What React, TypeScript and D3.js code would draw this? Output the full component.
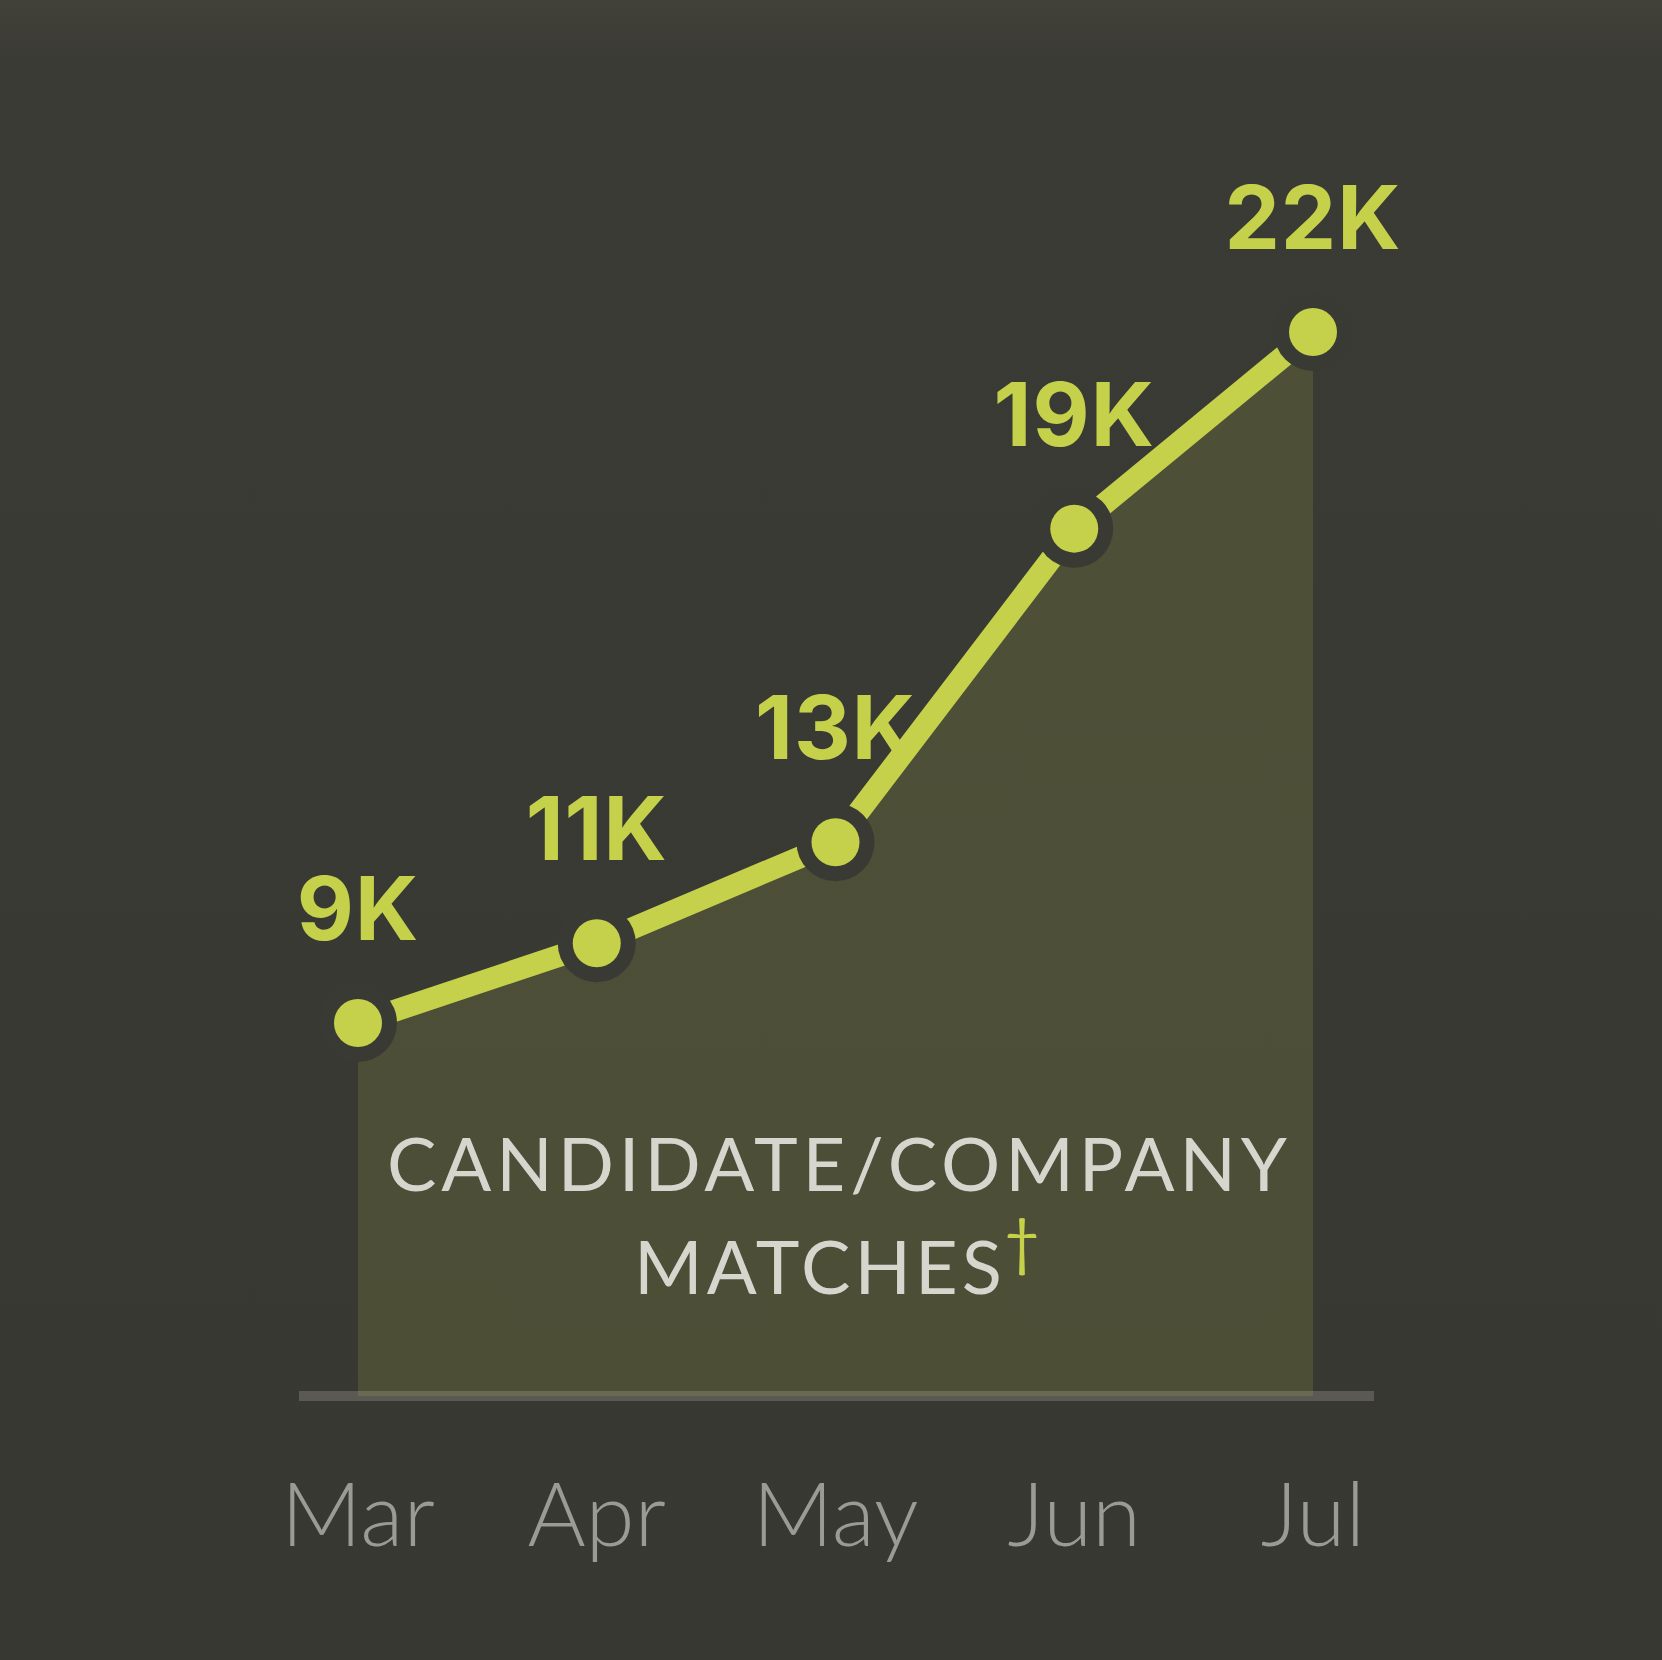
import React from 'react';
import * as d3 from 'd3';

const months = ['Mar', 'Apr', 'May', 'Jun', 'Jul'];
const matches = [9.4, 10.9, 12.8, 18.7, 22.4];
const valueLabels = ['9K', '11K', '13K', '19K', '22K'];
const titleLine1 = 'CANDIDATE/COMPANY';
const titleLine2 = 'MATCHES';
const footnoteMark = '†';

const W = 1662;
const H = 1660;

const BG = '#3a3a34';
const LIME = '#c5d14b';

export default function App() {
  const x = d3.scalePoint<string>().domain(months).range([358, 1313]);
  const y = d3.scaleLinear().domain([0, 25]).range([1522.6, 193.85]);
  const baseY = 1396;
  const pts = months.map((m, i) => ({ m, v: matches[i], label: valueLabels[i] }));
  const line = d3.line<any>().x((d) => x(d.m)!).y((d) => y(d.v));
  const area = d3
    .area<any>()
    .x((d) => x(d.m)!)
    .y0(baseY)
    .y1((d) => y(d.v));

  return (
    <svg
      width={W}
      height={H}
      viewBox={`0 0 ${W} ${H}`}
      style={{ position: 'absolute', left: 0, top: 0, display: 'block' }}
    >
      <defs>
        <linearGradient id="bg" x1="0" y1="0" x2="0" y2="1">
          <stop offset="0" stopColor="#414039" />
          <stop offset="0.04" stopColor="#3b3b35" />
          <stop offset="1" stopColor="#383833" />
        </linearGradient>
      </defs>
      <rect x={0} y={0} width={W} height={H} fill="url(#bg)" />

      {/* baseline axis */}
      <rect x={299} y={baseY - 5} width={1374 - 299} height={10} fill="#5a5954" />

      {/* area */}
      <path d={area(pts)!} fill={LIME} fillOpacity={0.14} />

      {/* line */}
      <path d={line(pts)!} fill="none" stroke={LIME} strokeWidth={22} strokeLinejoin="round" />

      {/* points */}
      {pts.map((p) => (
        <g key={p.m}>
          <circle cx={x(p.m)} cy={y(p.v)} r={39} fill={BG} />
          <circle cx={x(p.m)} cy={y(p.v)} r={24} fill={LIME} />
        </g>
      ))}

      {/* value labels */}
      {pts.map((p) => (
        <text
          key={'l' + p.m}
          x={x(p.m)}
          y={y(p.v) - 83}
          textAnchor="middle"
          fontFamily="Inter, 'Noto Sans', sans-serif"
          fontWeight={700}
          fontSize={88}
          letterSpacing={1}
          fill={LIME}
        >
          {p.label}
        </text>
      ))}

      {/* title */}
      <text
        x={387}
        y={1191}
        textLength={900}
        lengthAdjust="spacing"
        fontFamily="Lato, 'Open Sans', sans-serif"
        fontWeight={400}
        fontSize={74}
        fill="#d6d6ce"
      >
        {titleLine1}
      </text>
      <text
        x={634}
        y={1294}
        textLength={368}
        lengthAdjust="spacing"
        fontFamily="Lato, 'Open Sans', sans-serif"
        fontWeight={400}
        fontSize={74}
        fill="#d6d6ce"
      >
        {titleLine2}
      </text>
      <text
        x={1022}
        y={1264}
        textAnchor="middle"
        fontFamily="Lato, 'Open Sans', sans-serif"
        fontWeight={400}
        fontSize={62}
        fill={LIME}
      >
        {footnoteMark}
      </text>

      {/* month labels */}
      {months.map((m) => (
        <text
          key={'m' + m}
          x={x(m)}
          y={1546}
          textAnchor="middle"
          fontFamily="Lato, 'Open Sans', sans-serif"
          fontWeight={300}
          fontSize={89}
          fill="#9a9b94"
        >
          {m}
        </text>
      ))}
    </svg>
  );
}
